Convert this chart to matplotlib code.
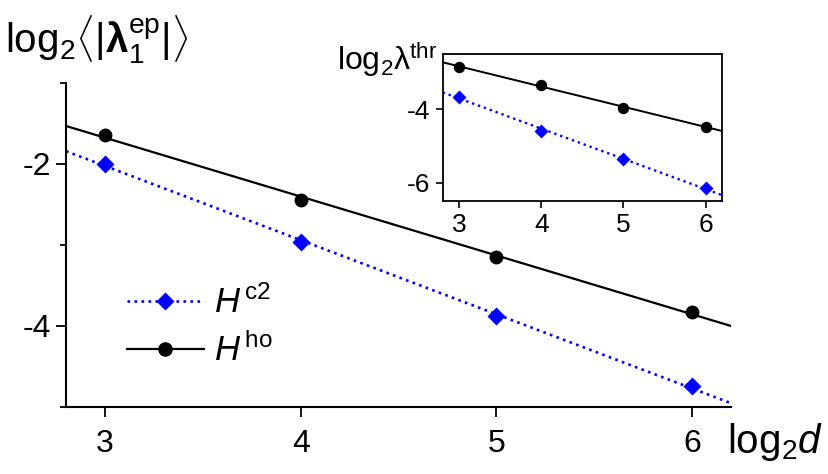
import numpy as np
import matplotlib
matplotlib.use("Agg")
import matplotlib.pyplot as plt

plt.rcParams['font.family'] = ['Liberation Sans', 'DejaVu Sans']
plt.rcParams['mathtext.fontset'] = 'custom'
plt.rcParams['mathtext.rm'] = 'Liberation Sans'
plt.rcParams['mathtext.it'] = 'Liberation Sans:italic'
plt.rcParams['mathtext.bf'] = 'Liberation Sans:bold'
plt.rcParams['axes.unicode_minus'] = False

# data (log2 d)
log2_d = [3, 4, 5, 6]
# main panel: log2 <|lambda_1^ep|>
lam_ep_c2 = [-2.00, -2.97, -3.88, -4.75]
lam_ep_ho = [-1.64, -2.45, -3.15, -3.83]
# inset: log2 lambda^thr
lam_thr_c2 = [-3.67, -4.59, -5.35, -6.16]
lam_thr_ho = [-2.86, -3.33, -3.97, -4.48]

xlim = (2.8, 6.2)
xx = np.array(xlim)

blue = '#0000ff'

fig = plt.figure(figsize=(8.29, 4.74), dpi=100)
ax = fig.add_axes([0.0796, 0.142, 0.8024, 0.683])

# fit lines across the full range
p_c2 = np.polyfit(log2_d, lam_ep_c2, 1)
p_ho = np.polyfit(log2_d, lam_ep_ho, 1)
ax.plot(xx, np.polyval(p_c2, xx), ':', color=blue, lw=1.9)
ax.plot(xx, np.polyval(p_ho, xx), '-', color='black', lw=1.6)
ax.plot(log2_d, lam_ep_c2, 'D', color=blue, ms=9, mec='none')
ax.plot(log2_d, lam_ep_ho, 'o', color='black', ms=10, mec='none')

ax.set_xlim(*xlim)
ax.set_ylim(-5, -1)
ax.set_xticks(log2_d)
ax.set_yticks([-2, -4])
ax.set_yticks([-1, -3, -5], minor=True)
ax.spines['top'].set_visible(False)
ax.spines['right'].set_visible(False)
for s in ax.spines.values():
    s.set_linewidth(1.5)
ax.tick_params(which='major', length=7, width=1.3, labelsize=23, pad=9)
ax.tick_params(which='minor', length=4, width=1.3)
ax.tick_params(axis='y', pad=4)

fig.text(0.006, 0.888, r'$\mathrm{log}_2\langle|\mathbf{\lambda}^{\rm ep}_{\rm 1}|\rangle$', fontsize=29)
fig.text(0.877, 0.045, r'$\mathrm{log}_2 d$', fontsize=29)

# legend
h1, = ax.plot([], [], ':', color=blue, lw=1.9, marker='D', ms=9.5, mec='none')
h2, = ax.plot([], [], '-', color='black', lw=1.6, marker='o', ms=10.5, mec='none')
ax.legend([h1, h2], [r'$H^{\,\rm c2}$', r'$H^{\,\rm ho}$'], loc='upper left',
          bbox_to_anchor=(0.092, 0.375), frameon=False, fontsize=25,
          handlelength=2.2, handletextpad=0.3, labelspacing=0.38,
          borderpad=0, borderaxespad=0)

# inset
axi = fig.add_axes([0.534, 0.576, 0.337, 0.310])
pi_c2 = np.polyfit(log2_d, lam_thr_c2, 1)
pi_ho = np.polyfit(log2_d, lam_thr_ho, 1)
axi.plot(xx, np.polyval(pi_c2, xx), ':', color=blue, lw=1.7)
axi.plot(xx, np.polyval(pi_ho, xx), '-', color='black', lw=1.4)
axi.plot(log2_d, lam_thr_c2, 'D', color=blue, ms=7.5, mec='none')
axi.plot(log2_d, lam_thr_ho, 'o', color='black', ms=8.2, mec='none')
axi.set_xlim(*xlim)
axi.set_ylim(-6.5, -2.5)
axi.set_xticks(log2_d)
axi.set_yticks([-4, -6])
for s in axi.spines.values():
    s.set_linewidth(1.3)
axi.tick_params(length=5, width=1.2, labelsize=19, pad=4)
fig.text(0.406, 0.852, r'$\mathrm{log}_2\mathrm{\lambda}^{\rm thr}$', fontsize=23)

fig.savefig('out.png', dpi=100)
